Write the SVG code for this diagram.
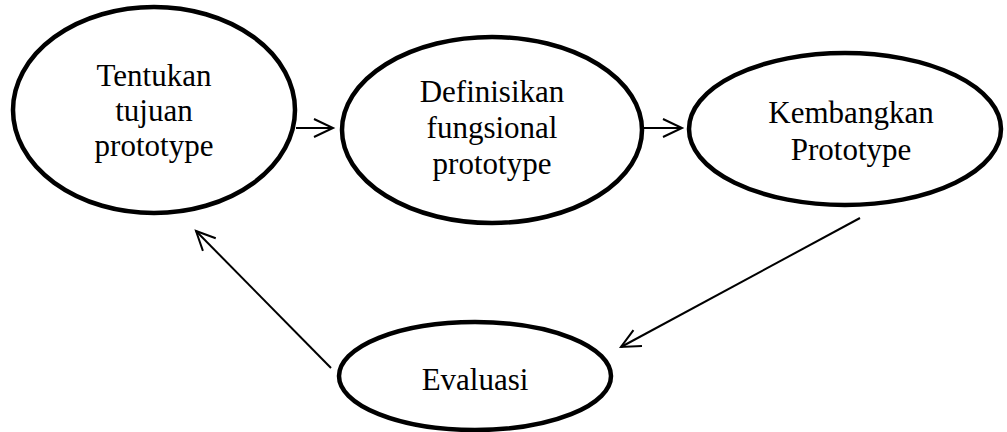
<svg xmlns="http://www.w3.org/2000/svg" width="1007" height="432" viewBox="0 0 1007 432">
<defs>
<style>
.node ellipse{fill:#fff;stroke:#000;stroke-width:4.5}
.lbl{font-family:"Liberation Serif","Times New Roman",serif;font-size:31px;fill:#000;text-anchor:middle}
.edge{stroke:#000;stroke-width:2;fill:none;marker-end:url(#arr)}
</style>
<marker id="arr" markerUnits="userSpaceOnUse" markerWidth="24" markerHeight="22" refX="20" refY="10" orient="auto" viewBox="0 0 24 22">
<path d="M1,1 L20,10 L1,19" fill="none" stroke="#000" stroke-width="2"/>
</marker>
</defs>
<rect width="1007" height="432" fill="#fff"/>
<g id="connectors">
<line class="edge" x1="296" y1="128" x2="333" y2="128"/>
<line class="edge" x1="643" y1="128" x2="682" y2="128"/>
<line class="edge" x1="860" y1="218" x2="621" y2="347"/>
<line class="edge" x1="331" y1="368" x2="196" y2="231"/>
</g>
<g id="node-tentukan" class="node">
<ellipse cx="154" cy="110" rx="141" ry="103"/>
<text class="lbl" x="154" y="86">Tentukan</text>
<text class="lbl" x="154" y="121">tujuan</text>
<text class="lbl" x="154" y="156">prototype</text>
</g>
<g id="node-definisikan" class="node">
<ellipse cx="492" cy="130" rx="150" ry="93"/>
<text class="lbl" x="492" y="102">Definisikan</text>
<text class="lbl" x="492" y="138">fungsional</text>
<text class="lbl" x="492" y="174">prototype</text>
</g>
<g id="node-kembangkan" class="node">
<ellipse cx="845" cy="129" rx="156" ry="76"/>
<text class="lbl" x="851" y="123">Kembangkan</text>
<text class="lbl" x="851" y="160">Prototype</text>
</g>
<g id="node-evaluasi" class="node">
<ellipse cx="475" cy="376" rx="136" ry="54"/>
<text class="lbl" x="475" y="390">Evaluasi</text>
</g>
</svg>
